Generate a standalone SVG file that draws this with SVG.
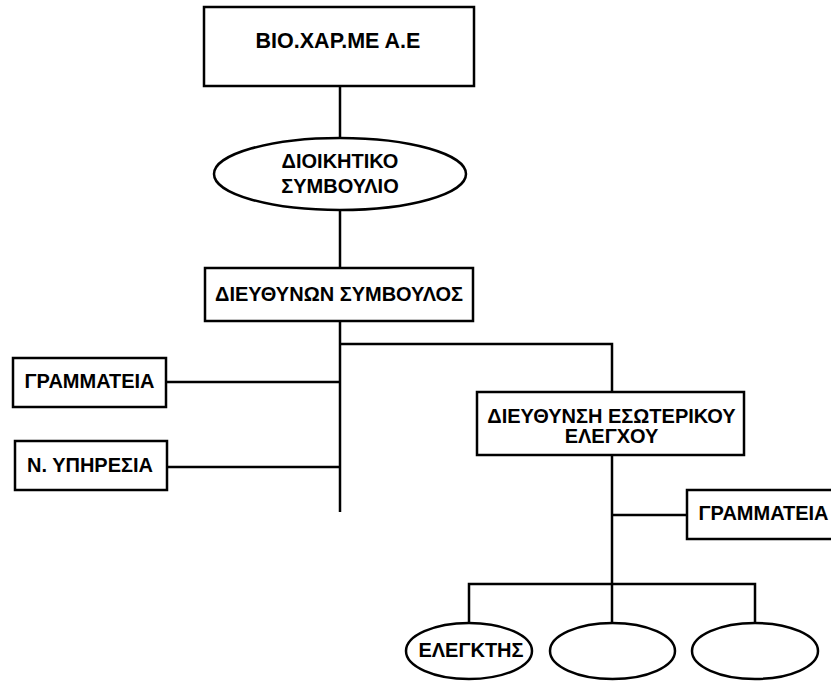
<svg xmlns="http://www.w3.org/2000/svg" width="831" height="682" viewBox="0 0 831 682">
<style>
.box{fill:#fff;stroke:#000;stroke-width:2.5}
.ln{fill:none;stroke:#000;stroke-width:2.5}
.t{font-family:"Liberation Sans",Arial,sans-serif;font-weight:bold;font-size:20px;text-anchor:middle;fill:#000}
.tt{font-size:21.5px}
</style>
<rect width="831" height="682" fill="#fff"/>
<g id="connectors">
<path class="ln" d="M340 86V139"/>
<path class="ln" d="M340 210V268"/>
<path class="ln" d="M340 321V512"/>
<path class="ln" d="M340 344H612V392"/>
<path class="ln" d="M166 382H340"/>
<path class="ln" d="M167 467H340"/>
<path class="ln" d="M612 455V622"/>
<path class="ln" d="M612 515H687"/>
<path class="ln" d="M469 623V584H755V623"/>
</g>
<g id="n1"><rect class="box" x="204" y="7" width="270" height="79"/><text class="t tt" x="338" y="48">BIO.XAP.ME A.E</text></g>
<g id="n2"><ellipse class="box" cx="340" cy="174" rx="126" ry="36"/><text class="t" x="340" y="168">ΔΙΟΙΚΗΤΙΚΟ</text><text class="t" x="340" y="193">ΣΥΜΒΟΥΛΙΟ</text></g>
<g id="n3"><rect class="box" x="205" y="268" width="268" height="53"/><text class="t" x="339" y="301">ΔΙΕΥΘΥΝΩΝ ΣΥΜΒΟΥΛΟΣ</text></g>
<g id="n4"><rect class="box" x="13" y="358" width="153" height="49"/><text class="t" x="89.5" y="388">ΓΡΑΜΜΑΤΕΙΑ</text></g>
<g id="n5"><rect class="box" x="15" y="441" width="152" height="49"/><text class="t" x="90" y="472">Ν. ΥΠΗΡΕΣΙΑ</text></g>
<g id="n6"><rect class="box" x="477" y="392" width="267" height="63"/><text class="t" x="611.5" y="423">ΔΙΕΥΘΥΝΣΗ ΕΣΩΤΕΡΙΚΟΥ</text><text class="t" x="611.5" y="443">ΕΛΕΓΧΟΥ</text></g>
<g id="n7"><rect class="box" x="687" y="490" width="160" height="49"/><text class="t" x="763.5" y="520">ΓΡΑΜΜΑΤΕΙΑ</text></g>
<g id="n8"><ellipse class="box" cx="469" cy="651" rx="63" ry="28"/><text class="t" x="471" y="657">ΕΛΕΓΚΤΗΣ</text></g>
<g id="n9"><ellipse class="box" cx="612.5" cy="651" rx="62.5" ry="28"/></g>
<g id="n10"><ellipse class="box" cx="755" cy="651" rx="63" ry="28"/></g>
</svg>
